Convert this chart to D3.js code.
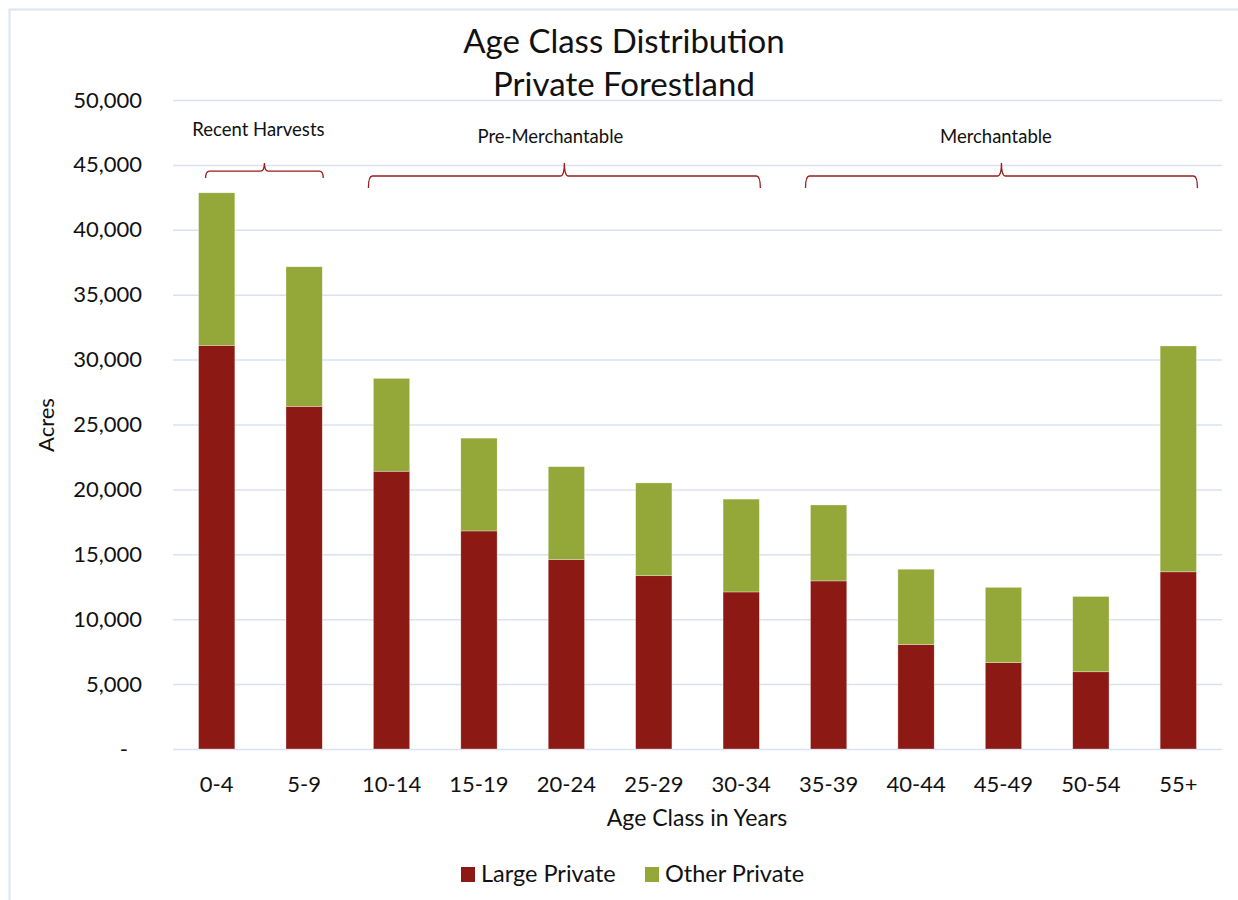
<!DOCTYPE html>
<html>
<head>
<meta charset="utf-8">
<script src="https://cdn.jsdelivr.net/npm/d3@7"></script>
<style>
  body { margin: 0; background: #fff; }
  text { font-family: Lato, "Open Sans", sans-serif; fill: #111; }
</style>
</head>
<body>
<div id="chart"></div>
<script>
// age classes and acres by ownership
const ageClasses = ['0-4', '5-9', '10-14', '15-19', '20-24', '25-29', '30-34', '35-39', '40-44', '45-49', '50-54', '55+']
const largePrivate = [31100, 26400, 21400, 16800, 14600, 13350, 12100, 12950, 8050, 6650, 5950, 13650]
const otherPrivate = [11750, 10750, 7150, 7150, 7150, 7150, 7150, 5850, 5800, 5800, 5800, 17400]
const seriesNames = ['Large Private', 'Other Private']
const seriesColors = ['#8D1915', '#93A839']
const yTicks = [0, 5000, 10000, 15000, 20000, 25000, 30000, 35000, 40000, 45000, 50000]

// stage brackets above the bars: first and last class covered
const stages = [
    { label: 'Recent Harvests', from: '0-4', to: '5-9' },
    { label: 'Pre-Merchantable', from: '10-14', to: '30-34' },
    { label: 'Merchantable', from: '35-39', to: '55+' },
]

const width = 1238
const height = 900
const plot = { left: 173, right: 1222, top: 100, bottom: 749 }
// small hand placement of the bracket labels, as in the original
const labelShift = [-6, -14, -5.5]
const labelY = [136, 143, 143]

const svg = d3.select('#chart')
    .append('svg')
    .attr('width', width)
    .attr('height', height)

// outer chart border
svg.append('rect')
    .attr('x', 9.5).attr('y', 9.5)
    .attr('width', width + 10).attr('height', height + 10)
    .style('fill', 'none')
    .style('stroke', '#DCE6F1')
    .style('stroke-width', 2)

const x = d3.scaleBand()
    .domain(ageClasses)
    .range([plot.left, plot.right])
    .paddingInner(0.585)
    .paddingOuter(0.2925)

const y = d3.scaleLinear()
    .domain([0, 50000])
    .range([plot.bottom, plot.top])

// y axis with gridlines
const yAxis = svg.append('g')
    .attr('transform', `translate(${plot.left},0)`)
    .call(d3.axisLeft(y)
        .tickValues(yTicks)
        .tickSize(-(plot.right - plot.left))
        .tickPadding(31)
        .tickFormat(d => d === 0 ? '-' : d3.format(',')(d)))
yAxis.select('.domain').remove()
yAxis.selectAll('.tick line')
    .style('stroke', '#D9E3F0')
    .style('stroke-width', 1.5)
yAxis.selectAll('.tick text')
    .style('font-size', '22px')
    .style('fill', '#111')
    .attr('dx', d => d === 0 ? -14 : 0)

// x axis
const xAxis = svg.append('g')
    .attr('transform', `translate(0,${plot.bottom})`)
    .call(d3.axisBottom(x).tickSize(0).tickPadding(27))
xAxis.select('.domain').remove()
xAxis.selectAll('.tick text')
    .style('font-size', '22px')
    .style('fill', '#111')

// stacked bars
const rows = ageClasses.map((c, i) => ({ age: c, 'Large Private': largePrivate[i], 'Other Private': otherPrivate[i] }))
const stacked = d3.stack().keys(seriesNames)(rows)

svg.selectAll('.layer')
    .data(stacked)
    .enter()
    .append('g')
    .attr('class', 'layer')
    .style('fill', (d, i) => seriesColors[i])
    .selectAll('rect')
    .data(d => d)
    .enter()
    .append('rect')
    .attr('x', d => x(d.data.age))
    .attr('width', x.bandwidth())
    .attr('y', d => y(d[1]))
    .attr('height', d => y(d[0]) - y(d[1]))
    .style('stroke', '#fff')
    .style('stroke-width', 0.6)
    .style('stroke-opacity', 0.5)

// titles
svg.append('text')
    .attr('x', 624).attr('y', 53)
    .attr('text-anchor', 'middle')
    .style('font-size', '33px')
    .text('Age Class Distribution')
svg.append('text')
    .attr('x', 624).attr('y', 96)
    .attr('text-anchor', 'middle')
    .style('font-size', '33px')
    .text('Private Forestland')

svg.append('text')
    .attr('transform', 'translate(54,425) rotate(-90)')
    .attr('text-anchor', 'middle')
    .style('font-size', '22px')
    .text('Acres')

svg.append('text')
    .attr('x', 697).attr('y', 826)
    .attr('text-anchor', 'middle')
    .style('font-size', '23px')
    .text('Age Class in Years')

// brackets
const peakY = 163
stages.forEach((s, i) => {
    let x0 = x(s.from) + (i === 0 ? 7 : -5)
    let x1 = x(s.to) + x.bandwidth() + 1
    let xm = (x0 + x1) / 2
    let depth = Math.min(12, (x1 - x0) * 0.06)
    let ly = peakY + depth + 1
    let r = 4
    let path = `M${x0},${ly + depth} Q${x0},${ly} ${x0 + r},${ly} L${xm - r},${ly} Q${xm},${ly} ${xm},${peakY}`
        + ` Q${xm},${ly} ${xm + r},${ly} L${x1 - r},${ly} Q${x1},${ly} ${x1},${ly + depth}`
    svg.append('path')
        .attr('d', path)
        .style('fill', 'none')
        .style('stroke', '#9B1C1C')
        .style('stroke-width', 1.3)

    svg.append('text')
        .attr('x', xm + labelShift[i])
        .attr('y', labelY[i])
        .attr('text-anchor', 'middle')
        .style('font-size', '18.5px')
        .text(s.label)
})

// legend
const legend = svg.append('g').attr('transform', 'translate(461,867)')
const legendX = [0, 184]
seriesNames.forEach((name, i) => {
    let g = legend.append('g').attr('transform', `translate(${legendX[i]},0)`)
    g.append('rect')
        .attr('width', 14).attr('height', 15)
        .style('fill', seriesColors[i])
    g.append('text')
        .attr('x', 20).attr('y', 15)
        .style('font-size', '23.5px')
        .text(name)
})
</script>
</body>
</html>
